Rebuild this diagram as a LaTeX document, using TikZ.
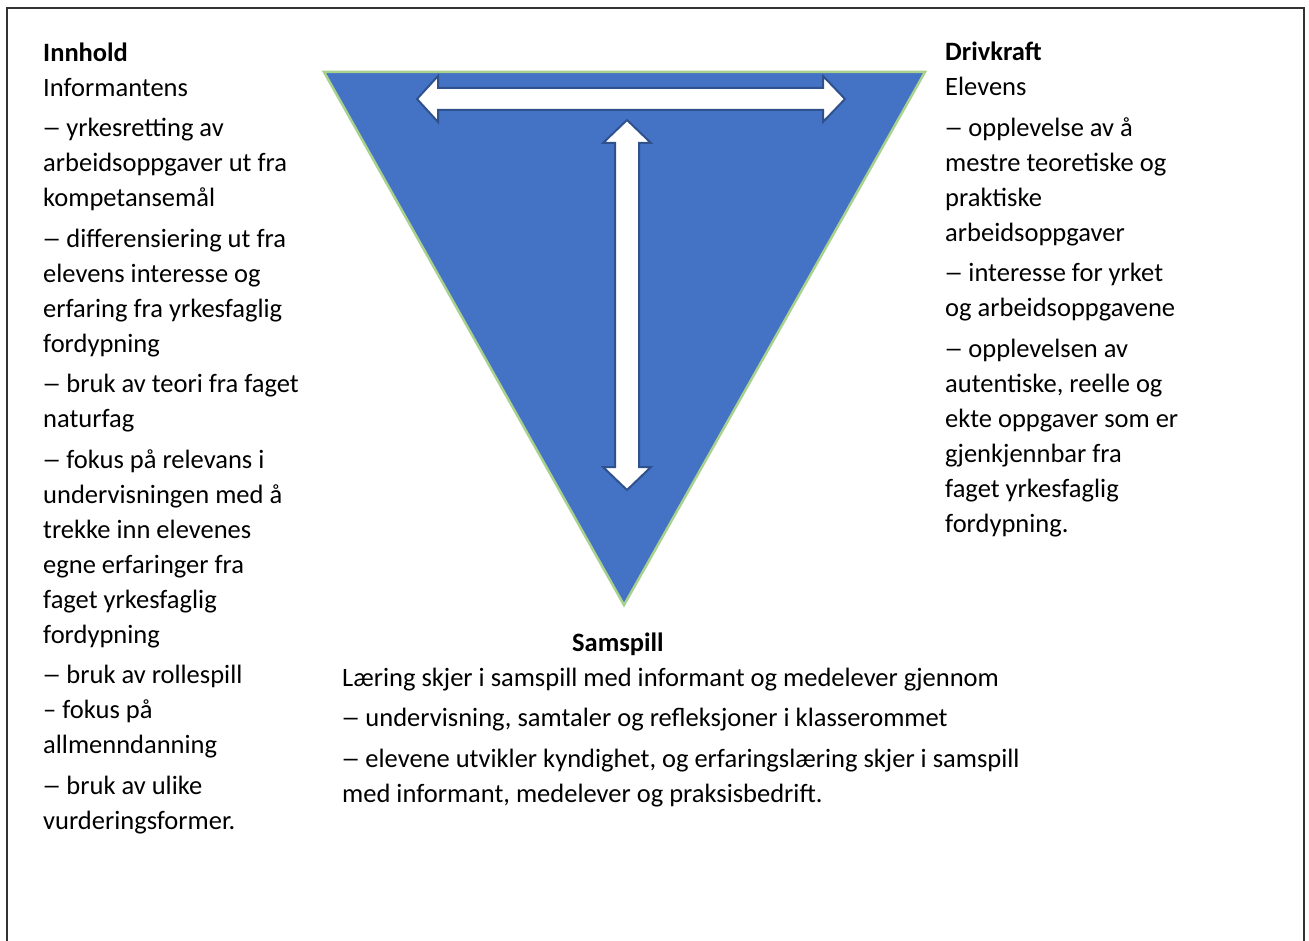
\documentclass[tikz,border=0pt]{standalone}
\usepackage{fontspec}
\usepackage{graphicx}
\setmainfont{Carlito}
\definecolor{wedgeblue}{HTML}{4472C4}
\definecolor{wedgegreen}{HTML}{A9D18E}
\definecolor{arrowblue}{HTML}{2F528F}
% narrow, thin list dash
\newcommand\listdash{\scalebox{0.72}[1]{—}}
\begin{document}
\begin{tikzpicture}[x=1pt,y=-1pt,
  frame/.style={draw=black!80, line width=1.5pt},
  wedge/.style={fill=wedgeblue, draw=wedgegreen, line width=2.5pt, line join=miter},
  blockarrow/.style={fill=white, draw=arrowblue, line width=2pt, line join=miter},
  txt/.style={anchor=base west, align=left, inner sep=0pt,
              font=\fontsize{26.5}{35}\selectfont},
  head/.style={txt, font=\fontsize{26.5}{35}\selectfont\bfseries}]
\useasboundingbox (0,0) rectangle (1309,941);
\fill[white] (0,0) rectangle (1309,941);

% open frame around the figure
\coordinate (fbl) at (7,941);
\coordinate (ftl) at (7,8);
\coordinate (ftr) at (1304,8);
\coordinate (fbr) at (1304,941);
\draw[frame] (fbl) -- (ftl) -- (ftr) -- (fbr);

% inverted triangle
\coordinate (tl) at (324,72);
\coordinate (tr) at (925,72);
\coordinate (tb) at (624,605);
\draw[wedge] (tl) -- (tr) -- (tb) -- cycle;

% horizontal double block arrow
\draw[blockarrow] (417,99) -- (438,76) -- (438,88) -- (823,88) -- (823,76)
  -- (845,99) -- (823,122) -- (823,110) -- (438,110) -- (438,122) -- cycle;

% vertical double block arrow
\draw[blockarrow] (627,120) -- (651,143) -- (639,143) -- (639,467) -- (651,467)
  -- (627,490) -- (603,467) -- (615,467) -- (615,143) -- (603,143) -- cycle;

% left column (anchored at the baseline of its last line)
\node[txt] (innhold) at (43,829) {\textbf{Innhold}\\
Informantens\\[5.5pt]
\listdash{} yrkesretting av\\
arbeidsoppgaver ut fra\\
kompetansemål\\[5.5pt]
\listdash{} differensiering ut fra\\
elevens interesse og\\
erfaring fra yrkesfaglig\\
fordypning\\[5.5pt]
\listdash{} bruk av teori fra faget\\
naturfag\\[5.5pt]
\listdash{} fokus på relevans i\\
undervisningen med å\\
trekke inn elevenes\\
egne erfaringer fra\\
faget yrkesfaglig\\
fordypning\\[5.5pt]
\listdash{} bruk av rollespill\\
– fokus på\\
allmenndanning\\[5.5pt]
\listdash{} bruk av ulike\\
vurderingsformer.};

% right column
\node[txt] (drivkraft) at (945,532) {\textbf{Drivkraft}\\
Elevens\\[5.5pt]
\listdash{} opplevelse av å\\
mestre teoretiske og\\
praktiske\\
arbeidsoppgaver\\[5.5pt]
\listdash{} interesse for yrket\\
og arbeidsoppgavene\\[5.5pt]
\listdash{} opplevelsen av\\
autentiske, reelle og\\
ekte oppgaver som er\\
gjenkjennbar fra\\
faget yrkesfaglig\\
fordypning.};

% bottom block
\node[head] (samspill) at (572,651) {Samspill};
\node[txt] (samtekst) at (342,802) {Læring skjer i samspill med informant og medelever gjennom\\[5.5pt]
\listdash{} undervisning, samtaler og refleksjoner i klasserommet\\[5.5pt]
\listdash{} elevene utvikler kyndighet, og erfaringslæring skjer i samspill\\
med informant, medelever og praksisbedrift.};
\end{tikzpicture}
\end{document}
